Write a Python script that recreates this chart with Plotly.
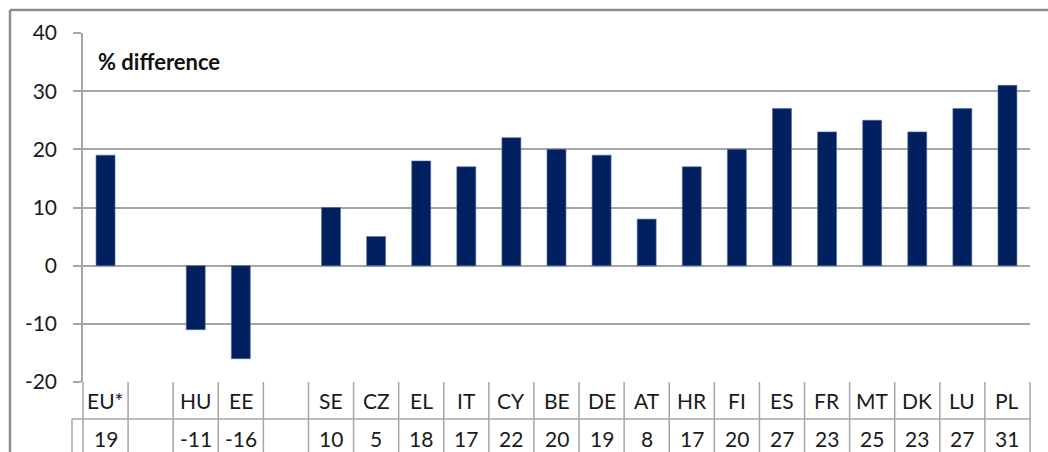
import plotly.graph_objects as go

# Country codes along the category axis (blank slots separate the groups)
categories = ["EU*", "", "HU", "EE", "", "SE", "CZ", "EL", "IT", "CY", "BE",
              "DE", "AT", "HR", "FI", "ES", "FR", "MT", "DK", "LU", "PL"]
# % difference per country (None = empty slot)
values = [19, None, -11, -16, None, 10, 5, 18, 17, 22, 20,
          19, 8, 17, 20, 27, 23, 25, 23, 27, 31]
y_ticks = [-20, -10, 0, 10, 20, 30, 40]
y_tick_labels = ["-20", "-10", "0", "10", "20", "30", "40"]

BAR = "#002060"
GRID = "#a6a6a6"
BORDER = "#8c8c8c"
TEXT = "#1a1a1a"
FONT = "Lato, 'Open Sans', sans-serif"

W, H = 1048, 452
ML, MR, MT, MB = 83, 18, 33, 70
PW, PH = W - ML - MR, H - MT - MB

def px_x(px):
    return (px - ML) / PW

def px_y(py):
    return (H - MB - py) / PH

n = len(categories)
xs = list(range(n))

fig = go.Figure()
fig.add_trace(go.Bar(
    x=xs, y=values,
    marker=dict(color=BAR, line=dict(color="#4f6a9a", width=0.6)),
    hoverinfo="skip",
))

row1_mid = px_y(400.5)
row1_bot = px_y(419)
row2_mid = px_y(438.5)
table_bot = px_y(460)

annotations = []
# category row and value row of the data table
for i, (c, v) in enumerate(zip(categories, values)):
    annotations.append(dict(x=i, xref="x", y=row1_mid, yref="paper", text=c,
                            showarrow=False, yanchor="middle",
                            font=dict(size=21, color=TEXT, family=FONT)))
    annotations.append(dict(x=i, xref="x", y=row2_mid, yref="paper",
                            text="" if v is None else f"{v:g}",
                            showarrow=False, yanchor="middle",
                            font=dict(size=21, color=TEXT, family=FONT)))
annotations.append(dict(x=px_x(96), xref="paper", y=px_y(62), yref="paper",
                        text="<b>% difference</b>", showarrow=False,
                        xanchor="left", yanchor="middle",
                        font=dict(size=22, color="#111111", family=FONT)))

shapes = []
line = dict(color=GRID, width=1.5)
# vertical cell dividers through both table rows
for k in range(n + 1):
    shapes.append(dict(type="line", xref="paper", yref="paper",
                       x0=k / n, x1=k / n, y0=0, y1=table_bot, line=line))
# bottom of the category row and left cap of the value row
shapes.append(dict(type="line", xref="paper", yref="paper",
                   x0=px_x(72), x1=1, y0=row1_bot, y1=row1_bot, line=line))
shapes.append(dict(type="line", xref="paper", yref="paper",
                   x0=px_x(72), x1=px_x(72), y0=row1_bot, y1=table_bot, line=line))
# outer chart frame
frame = dict(color=BORDER, width=2.5)
shapes.append(dict(type="line", xref="paper", yref="paper",
                   x0=px_x(10), x1=px_x(W + 5), y0=px_y(10), y1=px_y(10), line=frame))
shapes.append(dict(type="line", xref="paper", yref="paper",
                   x0=px_x(10), x1=px_x(10), y0=px_y(10), y1=px_y(H + 5), line=frame))

fig.update_layout(
    width=W, height=H,
    margin=dict(l=ML, r=MR, t=MT, b=MB, autoexpand=False),
    paper_bgcolor="white", plot_bgcolor="white",
    showlegend=False, bargap=0.58,
    font=dict(family=FONT, color=TEXT),
    annotations=annotations, shapes=shapes,
    xaxis=dict(range=[-0.5, n - 0.5], showticklabels=False, showgrid=False,
               zeroline=False, showline=False, ticks="", fixedrange=True),
    yaxis=dict(range=[-20, 40], tickvals=y_ticks, ticktext=y_tick_labels,
               showgrid=True,
               gridcolor=GRID, gridwidth=1.5, zeroline=True,
               zerolinecolor=GRID, zerolinewidth=1.5,
               showline=True, linecolor=GRID, linewidth=1.5,
               ticks="outside", ticklen=8, tickcolor=GRID, tickwidth=1.5,
               ticklabelstandoff=12,
               tickfont=dict(size=21, color=TEXT, family=FONT)),
)

fig.write_html("out.html")
